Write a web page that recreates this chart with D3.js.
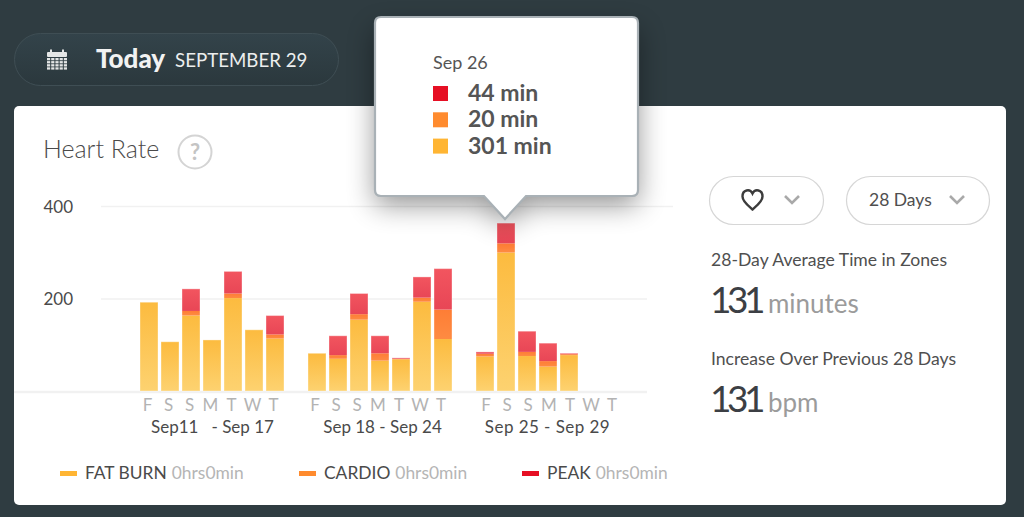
<!DOCTYPE html>
<html lang="en">
<head>
<meta charset="UTF-8">
<title>Heart Rate</title>
<script src="https://d3js.org/d3.v7.min.js"></script>
<style>
    html, body { margin: 0; padding: 0; background: #2f3c41; overflow: hidden; }
    svg { display: block; font-family: Lato, "Open Sans", sans-serif; }
    .axis path { display: none; }
    .axis line { display: none; }
</style>
</head>
<body>
<script>
// slots 7, 15 and 23 are the empty gaps between weeks
const slots = d3.range(24);
const dayLabels = ["F", "S", "S", "M", "T", "W", "T", "", "F", "S", "S", "M", "T", "W", "T", "", "F", "S", "S", "M", "T", "W", "T", ""];
const fatBurn = [193, 107, 164, 111, 202, 133, 114, 0, 82, 70, 155, 66, 69, 194, 113, 0, 75, 301, 76, 53, 78, 0, 0, 0];
const cardio = [0, 0, 10, 0, 10, 0, 9, 0, 0, 8, 12, 16, 1, 9, 64, 0, 6, 20, 9, 12, 2, 0, 0, 0];
const peak = [0, 0, 48, 0, 48, 0, 41, 0, 0, 42, 45, 38, 2, 45, 89, 0, 4, 44, 45, 39, 2, 0, 0, 0];
const yTicks = [200, 400];
const weekLabels = ["Sep11   - Sep 17", "Sep 18 - Sep 24", "Sep 25 - Sep 29"];
const weekCenters = [3, 11, 19];
const tooltipDate = "Sep 26";
const tooltipValues = ["44 min", "20 min", "301 min"];
const zoneNames = ["FAT BURN", "CARDIO", "PEAK"];
const zoneValues = ["0hrs0min", "0hrs0min", "0hrs0min"];

const width = 1024, height = 517;
const svg = d3.select("body").append("svg").attr("width", width).attr("height", height);
const defs = svg.append("defs");

function barGradient(id, top, bottom) {
    const g = defs.append("linearGradient").attr("id", id).attr("x1", 0).attr("x2", 0).attr("y1", 0).attr("y2", 1);
    g.append("stop").attr("offset", "0%").attr("stop-color", top);
    g.append("stop").attr("offset", "100%").attr("stop-color", bottom);
}
barGradient("gFat", "#fcbb3f", "#fdd270");
barGradient("gCardio", "#fe7d35", "#fe8b42");
barGradient("gPeak", "#f2555f", "#e84656");
barGradient("gPill", "#33434a", "#2b383d");

const blur = defs.append("filter").attr("id", "tipShadow")
    .attr("x", "-30%").attr("y", "-30%").attr("width", "160%").attr("height", "170%");
blur.append("feGaussianBlur").attr("stdDeviation", 14);

// background pill with the date
const pill = svg.append("g");
pill.append("rect").attr("x", 14.5).attr("y", 33.5).attr("width", 324).attr("height", 52).attr("rx", 26)
    .attr("fill", "url(#gPill)").attr("stroke", "#3f4e54");
const cal = pill.append("g").attr("fill", "#e4e6e6");
cal.append("rect").attr("x", 47).attr("y", 52).attr("width", 20).attr("height", 5).attr("rx", 1);
cal.append("rect").attr("x", 50).attr("y", 49.5).attr("width", 2).attr("height", 4);
cal.append("rect").attr("x", 62).attr("y", 49.5).attr("width", 2).attr("height", 4);
d3.range(4).forEach(r => d3.range(5).forEach(c => {
    cal.append("rect").attr("x", 47 + c * 4.2).attr("y", 58 + r * 3.1).attr("width", 3.2).attr("height", 2.3);
}));
pill.append("text").attr("x", 96).attr("y", 68).attr("fill", "#f2f2f2")
    .attr("font-size", 26).attr("font-weight", 900).text("Today");
pill.append("text").attr("x", 175).attr("y", 67).attr("fill", "#eceeee")
    .attr("font-size", 18.7).attr("font-weight", 400).text("SEPTEMBER 29");

// white card
svg.append("rect").attr("x", 14).attr("y", 106).attr("width", 992).attr("height", 399).attr("rx", 5).attr("fill", "#fff");

svg.append("text").attr("x", 43).attr("y", 158).attr("fill", "#4a4a4a").attr("font-size", 25).attr("font-weight", 300).text("Heart Rate");
svg.append("circle").attr("cx", 195).attr("cy", 152).attr("r", 16.5).attr("fill", "#fff")
    .attr("stroke", "#d4d4d4").attr("stroke-width", 2);
svg.append("text").attr("x", 195).attr("y", 160).attr("text-anchor", "middle").attr("fill", "#c4c4c4")
    .attr("font-size", 22).attr("font-weight", 700).text("?");

// scales
const x = d3.scaleBand().domain(slots).range([138.5, 642.5]).paddingInner(1 / 7).paddingOuter(1 / 14);
const y = d3.scaleLinear().domain([0, 400]).range([391, 207]);

// grid lines
const grid = svg.append("g").attr("stroke", "#f1f1f1").attr("stroke-width", 1.5);
grid.append("line").attr("x1", 101).attr("x2", 673).attr("y1", y(400) - 0.5).attr("y2", y(400) - 0.5);
grid.append("line").attr("x1", 101).attr("x2", 647).attr("y1", y(200)).attr("y2", y(200));
grid.append("line").attr("x1", 14).attr("x2", 647).attr("y1", y(0) + 1).attr("y2", y(0) + 1).attr("stroke-width", 2.5);

// y axis
svg.append("g").attr("class", "axis")
    .attr("transform", "translate(73,0)")
    .call(d3.axisLeft(y).tickValues(yTicks).tickSize(0).tickPadding(0))
    .call(g => g.selectAll("text").attr("font-size", 17).attr("fill", "#4a4a4a").attr("font-family", "Lato").attr("dy", "0.3em"));

// x axis, day letters. the letters sit a little off the bars, differently per week
svg.append("g").attr("class", "axis")
    .attr("transform", `translate(0,${y(0) + 5})`)
    .call(d3.axisBottom(x).tickSize(0).tickPadding(3).tickFormat(i => dayLabels[i]))
    .call(g => g.selectAll("text").attr("font-size", 17).attr("fill", "#b3b3b3").attr("font-family", "Lato")
        .attr("dx", i => i < 7 ? -1.5 : i < 15 ? -2 : 1));

const weekOffsets = [0.5, 2.5, -0.5];
const weekSpacing = [0, 0, 0.45];
svg.append("g").selectAll("text").data(weekLabels).join("text")
    .attr("x", (d, i) => x(weekCenters[i]) + x.bandwidth() / 2 + weekOffsets[i])
    .attr("y", 433)
    .attr("text-anchor", "middle")
    .attr("xml:space", "preserve")
    .attr("letter-spacing", (d, i) => weekSpacing[i])
    .attr("fill", "#4a4a4a")
    .attr("font-size", 17)
    .text(d => d);

// stacked bars
const rows = slots.map(i => ({ slot: i, fat: fatBurn[i], cardio: cardio[i], peak: peak[i] }));
const stack = d3.stack().keys(["fat", "cardio", "peak"])(rows);
const fills = ["url(#gFat)", "url(#gCardio)", "url(#gPeak)"];
svg.append("g").selectAll("g").data(stack).join("g")
    .each(function (layer, k) {
        d3.select(this).selectAll("rect").data(layer.filter(d => d[1] > d[0])).join("rect")
            .attr("x", d => x(d.data.slot))
            .attr("width", x.bandwidth())
            .attr("y", d => y(d[1]))
            .attr("height", d => y(d[0]) - y(d[1]))
            .attr("fill", fills[k]);
    });
// thin pale outline around each full bar
svg.append("g").selectAll("rect").data(rows.filter(d => d.fat > 0)).join("rect")
    .attr("x", d => x(d.slot))
    .attr("width", x.bandwidth())
    .attr("y", d => y(d.fat + d.cardio + d.peak))
    .attr("height", d => y(0) - y(d.fat + d.cardio + d.peak))
    .attr("fill", "none")
    .attr("stroke", "#fff")
    .attr("stroke-opacity", 0.35)
    .attr("stroke-width", 1);

// right panel
function pillButton(px, pw) {
    svg.append("rect").attr("x", px).attr("y", 176.5).attr("width", pw).attr("height", 48).attr("rx", 24)
        .attr("fill", "#fff").attr("stroke", "#d6d6d6").attr("stroke-width", 1.2);
}
function chevron(cx) {
    svg.append("path").attr("d", `M${cx - 7},196 L${cx},203 L${cx + 7},196`)
        .attr("fill", "none").attr("stroke", "#a9a9a9").attr("stroke-width", 2.6);
}
pillButton(709.5, 114);
pillButton(846.5, 143);
svg.append("path")
    .attr("d", "M752.5,209.5 C748,205.5 742.5,201.5 742.5,196.5 C742.5,189.5 750,188.5 752.5,193.5 C755,188.5 762.5,189.5 762.5,196.5 C762.5,201.5 757,205.5 752.5,209.5 Z")
    .attr("fill", "none").attr("stroke", "#3c3c3c").attr("stroke-width", 2.4);
chevron(792);
chevron(957);
svg.append("text").attr("x", 869).attr("y", 206).attr("fill", "#4f4f4f").attr("font-size", 17.5).text("28 Days");

function statBlock(labelY, label, numY, unit) {
    svg.append("text").attr("x", 711).attr("y", labelY).attr("fill", "#4f4f4f").attr("font-size", 17.6).text(label);
    const t = svg.append("text").attr("x", 710).attr("y", numY);
    t.append("tspan").attr("fill", "#3c3f44").attr("font-size", 37).attr("letter-spacing", -4.5).text("131");
    t.append("tspan").attr("dx", 7).attr("fill", "#9b9b9b").attr("font-size", 26).text(unit);
}
statBlock(266, "28-Day Average Time in Zones", 313, "minutes");
statBlock(365, "Increase Over Previous 28 Days", 412, "bpm");

// legend
const legendColors = ["#ffb533", "#ff8b2e", "#e60f24"];
const legendX = [60, 299, 522];
zoneNames.forEach((name, i) => {
    svg.append("rect").attr("x", legendX[i]).attr("y", 471).attr("width", 17).attr("height", 5).attr("fill", legendColors[i]);
    const t = svg.append("text").attr("x", legendX[i] + 25).attr("y", 479).attr("font-size", 17.4);
    t.append("tspan").attr("fill", "#4a4a4a").text(name);
    t.append("tspan").attr("dx", 5).attr("fill", "#b5b5b5").text(zoneValues[i]);
});

// tooltip
const tipPath = "M381,17 H632 Q638,17 638,23 V190 Q638,196 632,196 H526 L505,219 L484,196 H381 Q375,196 375,190 V23 Q375,17 381,17 Z";
svg.append("path").attr("d", "M375,30 H638 V205 H526 L505,226 L484,205 H375 Z")
    .attr("fill", "#000").attr("opacity", 0.42).attr("filter", "url(#tipShadow)");
svg.append("path").attr("d", tipPath).attr("fill", "#fff").attr("stroke", "#a9b1b6").attr("stroke-width", 2.2);
svg.append("text").attr("x", 433).attr("y", 69).attr("fill", "#555").attr("font-size", 18).text(tooltipDate);
const tipColors = [legendColors[2], legendColors[1], legendColors[0]];
tooltipValues.forEach((v, i) => {
    const rowY = 26.3 * i;
    svg.append("rect").attr("x", 433).attr("y", 86 + rowY).attr("width", 15).attr("height", 15).attr("fill", tipColors[i]);
    svg.append("text").attr("x", 468).attr("y", 101 + rowY).attr("fill", "#555").attr("font-size", 23)
        .attr("font-weight", 700).text(v);
});
</script>
</body>
</html>
